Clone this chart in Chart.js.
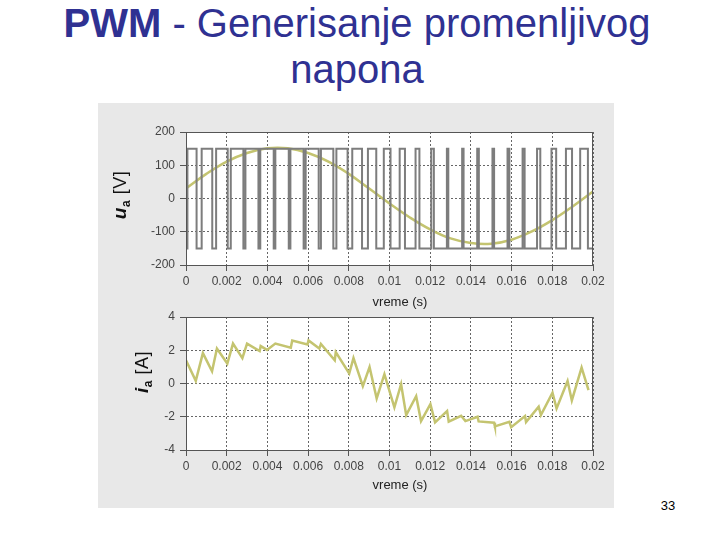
<!DOCTYPE html>
<html>
<head>
<meta charset="utf-8">
<script src="https://cdn.jsdelivr.net/npm/chart.js@4.4.1/dist/chart.umd.min.js"></script>
<style>
  body { margin: 0; background: #fff; font-family: "Liberation Sans", Arial, sans-serif; }
  #page { position: relative; width: 720px; height: 540px; overflow: hidden; }
  #title { position: absolute; left: -3px; top: 0px; width: 720px; text-align: center;
           font-size: 40px; line-height: 46px; color: #2f3192; }
  #panel { position: absolute; left: 98px; top: 103px; width: 516px; height: 405px; background: #e8e8e8; }
  canvas { position: absolute; left: 98px; }
  .ytitle { position: absolute; transform: translate(-50%, -50%) rotate(-90deg); font-size: 18px;
            color: #111; white-space: nowrap; letter-spacing: 0.5px; }
  .ytitle b { font-size: 19px; }
  .ytitle sub { font-size: 12px; }
  .xtitle { position: absolute; transform: translate(-50%, -50%); font-size: 13px; color: #222; }
  #pagenum { position: absolute; left: 668px; top: 505px; transform: translate(-50%, -50%);
             font-size: 13px; color: #000; }
</style>
</head>
<body>
<div id="page">
  <div id="title"><b>PWM</b> - Generisanje promenljivog<br>napona</div>
  <div id="panel"></div>
  <canvas id="uaChart" width="516" height="190" style="top:103px"></canvas>
  <canvas id="iaChart" width="516" height="215" style="top:293px"></canvas>
  <div class="ytitle" style="left:121px; top:195px"><b><i>u</i><sub>a</sub></b> [V]</div>
  <div class="ytitle" style="left:143px; top:372px"><b><i>i</i><sub>a</sub></b> [A]</div>
  <div class="xtitle" style="left:400px; top:301px">vreme (s)</div>
  <div class="xtitle" style="left:400px; top:484px">vreme (s)</div>
  <div id="pagenum">33</div>
</div>
<script>
// data
var xTickLabels = ["0", "0.002", "0.004", "0.006", "0.008", "0.01", "0.012", "0.014", "0.016", "0.018", "0.02"];
var uTicks = [-200, -100, 0, 100, 200];
var iTicks = [-4, -2, 0, 2, 4];

// PWM voltage: starts low, toggles at every switching time
var pwmLevels = [-150, 150];
var switchTimes = [
  0.00007,
  0.00052, 0.00077, 0.00129, 0.00148, 0.00205, 0.00220, 0.00282, 0.00292,
  0.00356, 0.00365, 0.00431, 0.00439, 0.00505, 0.00513, 0.00578, 0.00588,
  0.00652, 0.00663, 0.00724, 0.00739, 0.00794, 0.00817, 0.00865, 0.00894,
  0.00935, 0.00972, 0.01005, 0.01050, 0.01076, 0.01128, 0.01147, 0.01205,
  0.01218, 0.01282, 0.01289, 0.01357, 0.01364, 0.01431, 0.01439, 0.01506,
  0.01514, 0.01580, 0.01589, 0.01654, 0.01664, 0.01725, 0.01741, 0.01796,
  0.01819, 0.01867, 0.01897, 0.01937,
  0.01975
];

// fundamental of the voltage
var fundTime = [0, 0.001, 0.002, 0.003, 0.004, 0.005, 0.006, 0.007, 0.008, 0.009, 0.01,
  0.011, 0.012, 0.013, 0.014, 0.015, 0.016, 0.017, 0.018, 0.019, 0.02];
var fundValue = [30, 74, 111, 137, 151, 151, 137, 111, 74, 30, -15,
  -57, -93, -120, -134, -136, -124, -99, -65, -24, 21];

// phase current
var iTime = [
  0.00000, 0.00048, 0.00083, 0.00128, 0.00152, 0.00203, 0.00231, 0.00277, 0.00300, 0.00362,
  0.00367, 0.00398, 0.00439, 0.00515, 0.00522, 0.00597, 0.00602, 0.00655, 0.00663, 0.00731,
  0.00736, 0.00802, 0.00823, 0.00869, 0.00902, 0.00937, 0.00975, 0.01024, 0.01057, 0.01082,
  0.01131, 0.01155, 0.01201, 0.01224, 0.01283, 0.01291, 0.01352, 0.01373, 0.01433, 0.01438,
  0.01514, 0.01518, 0.01589, 0.01598, 0.01666, 0.01671, 0.01733, 0.01744, 0.01801, 0.01821,
  0.01875, 0.01896, 0.01944, 0.01978
];
var iValue = [
  1.40, 0.16, 1.83, 0.74, 2.10, 1.20, 2.40, 1.53, 2.40, 1.95,
  2.25, 2.02, 2.40, 2.16, 2.59, 2.35, 2.59, 2.10, 2.38, 1.40,
  1.89, 0.60, 1.53, -0.16, 0.99, -0.90, 0.56, -1.44, -0.04, -1.90,
  -0.76, -2.26, -1.24, -2.34, -1.66, -2.30, -1.94, -2.26, -2.00, -2.28,
  -2.36, -2.58, -2.30, -2.63, -1.96, -2.32, -1.40, -1.90, -0.55, -1.50,
  0.15, -1.02, 0.96, -0.40
];

// build point lists for the library
var pwmPoints = [{ x: 0, y: pwmLevels[0] }];
var level = 0;
switchTimes.forEach(function (t) {
  level = 1 - level;
  pwmPoints.push({ x: t, y: pwmLevels[level] });
});
pwmPoints.push({ x: 0.02, y: pwmLevels[level] });

var fundPoints = fundTime.map(function (t, i) { return { x: t, y: fundValue[i] }; });
var iPoints = iTime.map(function (t, i) { return { x: t, y: iValue[i] }; });

Chart.defaults.font.family = '"Liberation Sans", Arial, sans-serif';
Chart.defaults.font.size = 12;
Chart.defaults.color = "#444";

var lineColor = "rgb(196, 196, 112)";

// white plot area with a full box around it
var boxPlugin = {
  id: "box",
  beforeDraw: function (chart) {
    var a = chart.chartArea, ctx = chart.ctx;
    ctx.save();
    ctx.fillStyle = "#fff";
    ctx.fillRect(a.left, a.top, a.right - a.left, a.bottom - a.top);
    ctx.restore();
  },
  afterDraw: function (chart) {
    var a = chart.chartArea, ctx = chart.ctx;
    ctx.save();
    ctx.strokeStyle = "#555";
    ctx.lineWidth = 1;
    ctx.strokeRect(a.left + 0.5, a.top + 0.5, a.right - a.left - 1, a.bottom - a.top);
    ctx.restore();
  },
};

function xScale() {
  return {
    type: "linear",
    min: 0,
    max: 0.02,
    afterBuildTicks: function (s) {
      s.ticks = xTickLabels.map(function (l) { return { value: parseFloat(l) }; });
    },
    afterFit: function (s) { s.height = 28; },
    ticks: {
      padding: 3,
      maxRotation: 0,
      callback: function (v, i) { return xTickLabels[i]; },
    },
    grid: { color: "#666", tickColor: "#555", tickLength: 6, tickBorderDash: [] },
    border: { color: "#555", dash: [2, 2] },
  };
}

function yScale(ticks) {
  return {
    min: ticks[0],
    max: ticks[ticks.length - 1],
    afterBuildTicks: function (s) {
      s.ticks = ticks.map(function (v) { return { value: v }; });
    },
    afterFit: function (s) { s.width = 88; },
    ticks: { padding: 5 },
    grid: { color: "#666", tickColor: "#555", tickLength: 6, tickBorderDash: [] },
    border: { color: "#555", dash: [2, 2] },
  };
}

// VOLTAGE

new Chart(document.getElementById("uaChart"), {
  type: "line",
  data: {
    datasets: [
      {
        label: "ua",
        data: pwmPoints,
        stepped: true,
        borderColor: "rgb(125, 125, 125)",
        borderWidth: 2,
        pointRadius: 0,
      },
      {
        label: "ua1",
        data: fundPoints,
        tension: 0.4,
        borderColor: lineColor,
        borderWidth: 2.5,
        pointRadius: 0,
      },
    ],
  },
  options: {
    responsive: false,
    animation: false,
    layout: { padding: { left: 0, top: 29, right: 21, bottom: 0 } },
    plugins: { legend: { display: false }, tooltip: { enabled: false } },
    scales: { x: xScale(), y: yScale(uTicks) },
  },
  plugins: [boxPlugin],
});

// CURRENT

new Chart(document.getElementById("iaChart"), {
  type: "line",
  data: {
    datasets: [
      {
        label: "ia",
        data: iPoints,
        borderColor: lineColor,
        borderWidth: 2.5,
        pointRadius: 0,
      },
    ],
  },
  options: {
    responsive: false,
    animation: false,
    layout: { padding: { left: 0, top: 24, right: 21, bottom: 30 } },
    plugins: { legend: { display: false }, tooltip: { enabled: false } },
    scales: { x: xScale(), y: yScale(iTicks) },
  },
  plugins: [boxPlugin],
});
</script>
</body>
</html>
